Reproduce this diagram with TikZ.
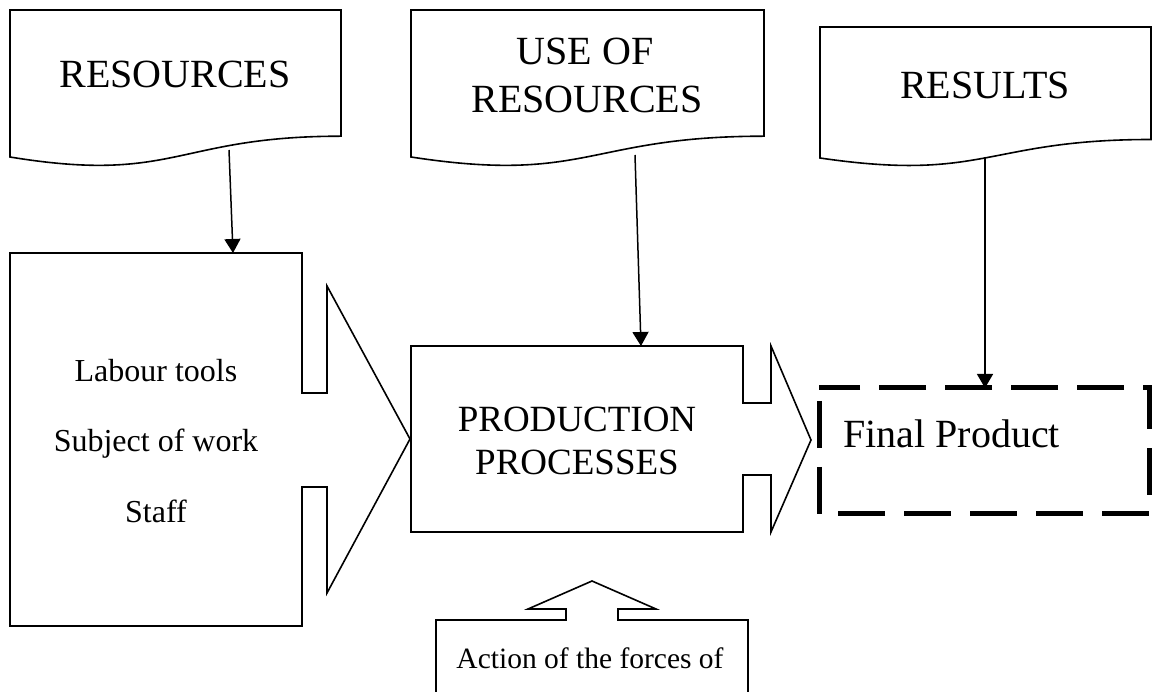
\documentclass[tikz,border=0pt]{standalone}
\usepackage{fontspec}
\setmainfont{Liberation Serif}
\usetikzlibrary{arrows.meta}
\begin{document}
\begin{tikzpicture}[x=1pt,y=-1pt,
  shapeline/.style={draw=black,line width=1.6pt,line join=miter},
  conn/.style={draw=black,line width=1.5pt,-{Triangle[length=14pt,width=16pt]}},
  bigtxt/.style={font=\fontsize{40}{48}\selectfont,anchor=base,inner sep=0pt},
  midtxt/.style={font=\fontsize{37}{43}\selectfont,anchor=base,inner sep=0pt},
  smalltxt/.style={font=\fontsize{32}{38}\selectfont,anchor=base,inner sep=0pt},
  dashbox/.style={draw=black,line width=5pt,dash pattern=on 47pt off 19pt,dash phase=53pt}]
\useasboundingbox (0,0) rectangle (1152,692);
\clip (0,0) rectangle (1152,692);
% document shapes
\draw[shapeline] (10,10) -- (341,10) -- (341,136.2) .. controls (175.5,136.2) and (175.5,184.2) .. (10,157) -- cycle;
\draw[shapeline] (411,10) -- (764,10) -- (764,136.2) .. controls (587.5,136.2) and (587.5,184.2) .. (411,157) -- cycle;
\draw[shapeline] (820,27) -- (1151,27) -- (1151,139.5) .. controls (985.5,139.5) and (985.5,182.3) .. (820,158) -- cycle;
\node[bigtxt] (res) at (175,88) {RESOURCES};
\node[bigtxt] (use1) at (585,65) {USE OF};
\node[bigtxt] (use2) at (587,113) {RESOURCES};
\node[bigtxt] (rsl) at (985,99) {RESULTS};
% left box with arrow
\draw[shapeline] (10,253) -- (302,253) -- (302,393) -- (327,393) -- (327,286) -- (410,439) -- (327,593) -- (327,487) -- (302,487) -- (302,626) -- (10,626) -- cycle;
\node[smalltxt] (lab) at (156,382) {Labour tools};
\node[smalltxt] (sub) at (156,452) {Subject of work};
\node[smalltxt] (stf) at (156,522) {Staff};
% production box with arrow
\draw[shapeline] (411,346) -- (743,346) -- (743,403) -- (771,403) -- (771,346) -- (811,440) -- (771,532) -- (771,475) -- (743,475) -- (743,532) -- (411,532) -- cycle;
\node[midtxt] (prod1) at (577,432) {PRODUCTION};
\node[midtxt] (prod2) at (577,475) {PROCESSES};
% final product
\draw[dashbox] (819,388) rectangle (1149,514);
\node[bigtxt,anchor=base west] (fin) at (843,448) {Final Product};
% bottom box with up arrow
\draw[shapeline] (436,700) -- (436,620) -- (566,620) -- (566,609) -- (528,609) -- (592,581) -- (656,609) -- (618,609) -- (618,620) -- (748,620) -- (748,700);
\node[font=\fontsize{29.5}{36}\selectfont,anchor=base,inner sep=0pt] (act) at (590,668) {Action of the forces of};
% connectors
\coordinate (s1) at (229,150);
\coordinate (e1) at (233,253);
\coordinate (s2) at (635,155);
\coordinate (e2) at (641,346);
\coordinate (s3) at (985,157);
\coordinate (e3) at (985,388);
\draw[conn] (s1) -- (e1);
\draw[conn] (s2) -- (e2);
\draw[conn] (s3) -- (e3);
\end{tikzpicture}
\end{document}
